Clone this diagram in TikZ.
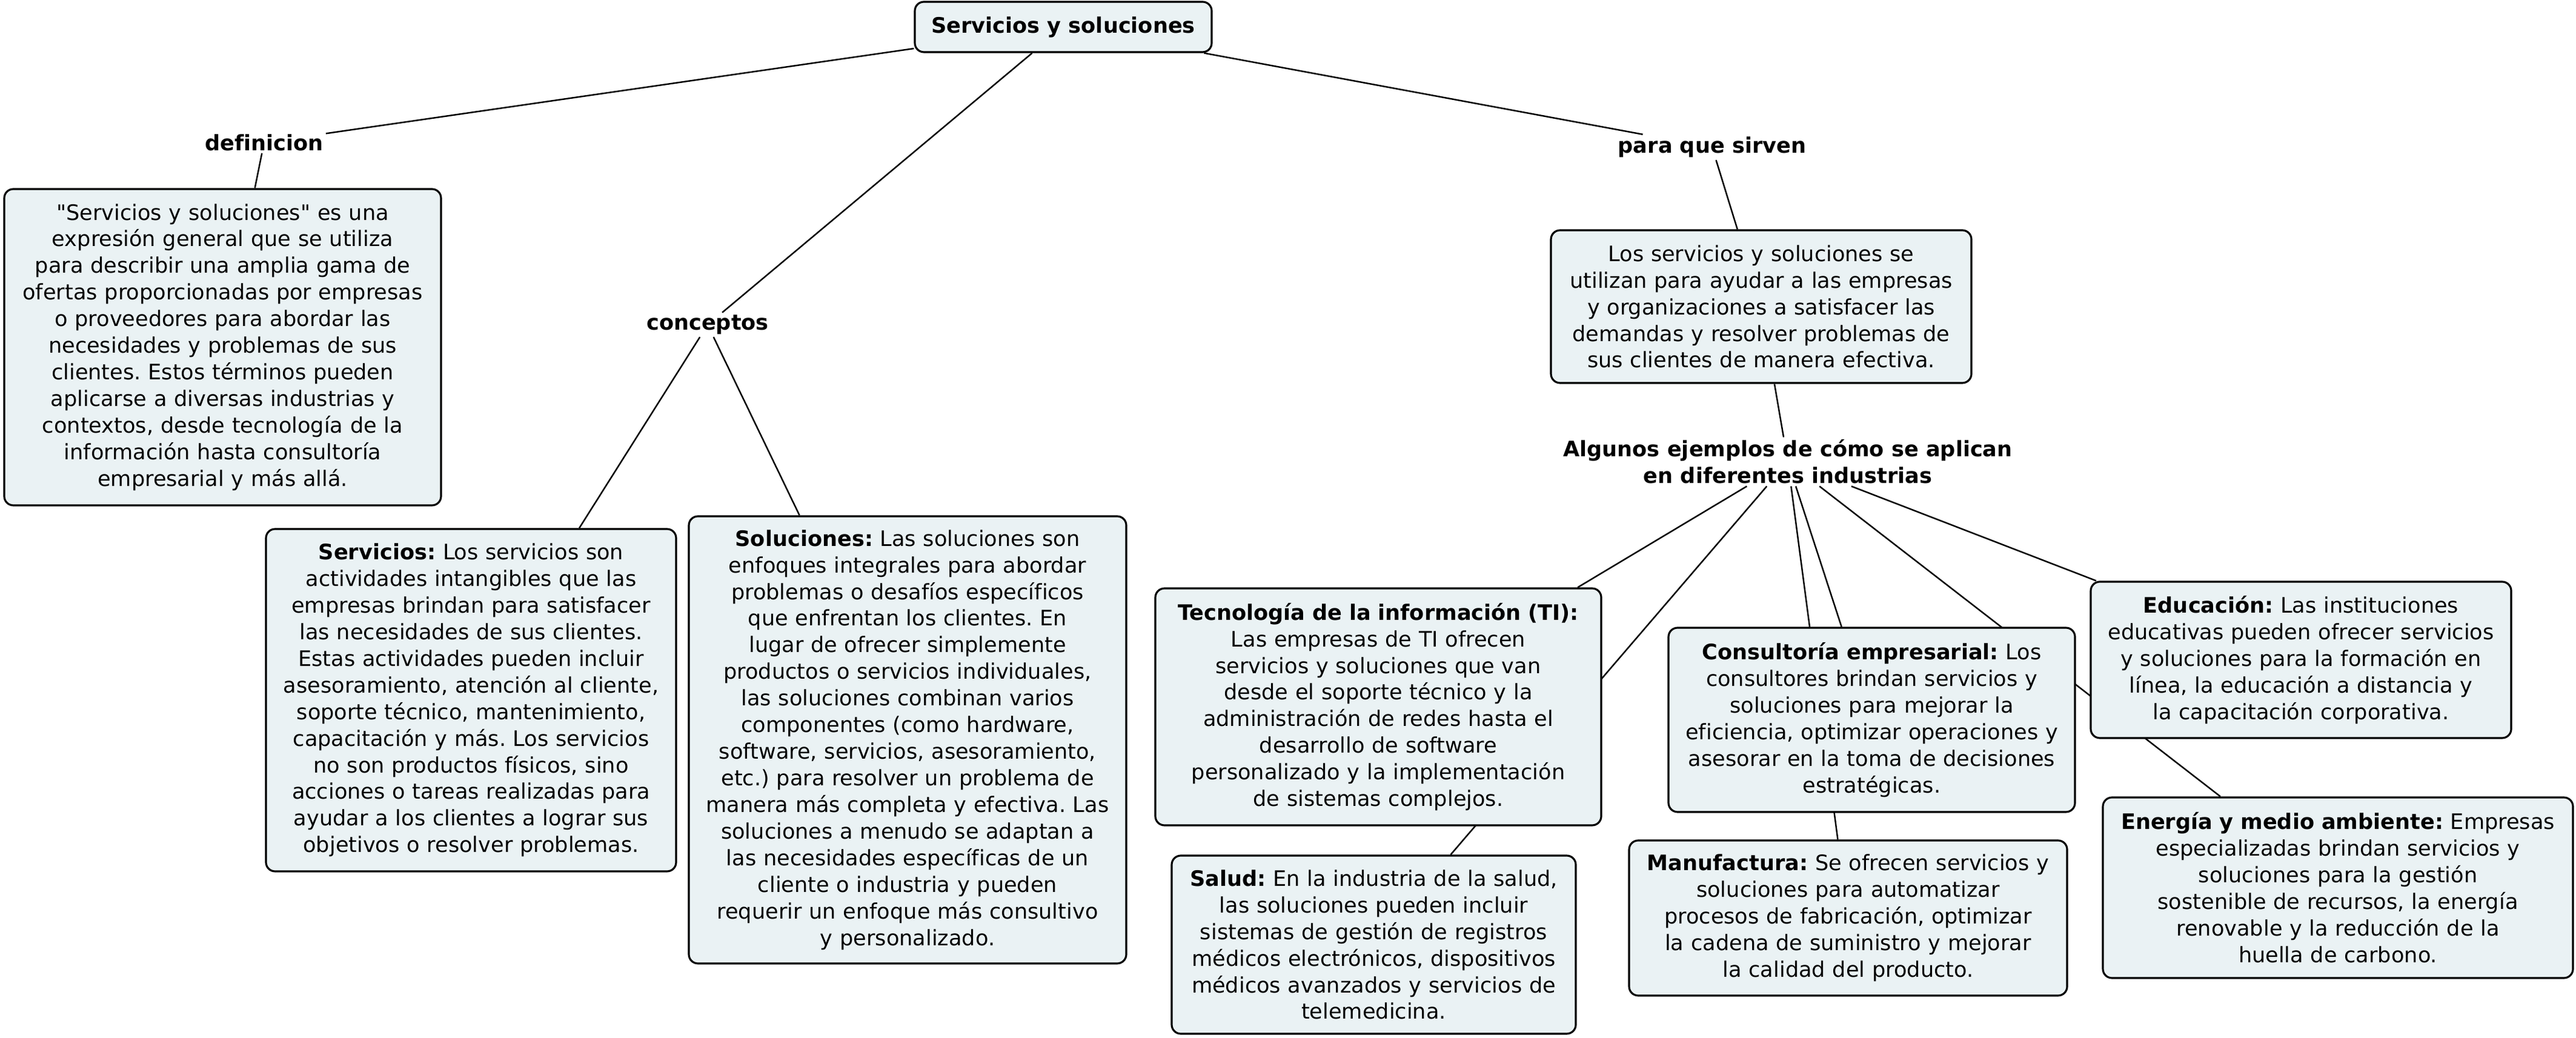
\documentclass[tikz,border=0pt]{standalone}
\usepackage{fontspec}
\setmainfont{DejaVu Sans}[Ligatures={TeXOff,NoCommon}]
\usetikzlibrary{positioning,backgrounds}
\definecolor{fondocaja}{HTML}{EAF2F4}
\newcommand{\letra}{\fontsize{10}{12.5}\selectfont\frenchspacing}

\begin{document}
\begin{tikzpicture}[-,thin]
\tikzstyle{caja}=[draw,fill=fondocaja,line width=0.9pt,rounded corners=0.15cm,align=center,inner xsep=0.12cm,inner ysep=0pt,text=black,font=\letra]
\tikzstyle{etiqueta}=[font=\letra\bfseries,align=center,inner sep=1pt]
\tikzstyle{enlace}=[line width=0.7pt]
\useasboundingbox (0,0) rectangle (42.52,-17.13);

\node[caja,font=\letra\bfseries,minimum width=4.9cm,minimum height=0.83cm] (raiz) at (17.55,-0.445) {Servicios y soluciones};

\node[etiqueta]  (definicion) [below of=raiz,node distance=1.905cm,xshift=-13.19cm] {definicion};
\node[caja]      (textodef) [below of=definicion,node distance=3.38cm,xshift=-0.685cm,text width=6.97cm,minimum height=5.22cm]
{"Servicios y soluciones" es una\\expresión general que se utiliza\\para describir una amplia gama de\\ofertas proporcionadas por empresas\\o proveedores para abordar las\\necesidades y problemas de sus\\clientes. Estos términos pueden\\aplicarse a diversas industrias y\\contextos, desde tecnología de la\\información hasta consultoría\\empresarial y más allá.};

\node[etiqueta]  (conceptos) [below of=raiz,node distance=4.915cm,xshift=-5.87cm] {conceptos};
\node[caja]      (servicios) [below of=conceptos,node distance=6.195cm,xshift=-3.905cm,text width=6.53cm,minimum height=5.65cm]
{\textbf{Servicios:} Los servicios son\\actividades intangibles que las\\empresas brindan para satisfacer\\las necesidades de sus clientes.\\Estas actividades pueden incluir\\asesoramiento, atención al cliente,\\soporte técnico, mantenimiento,\\capacitación y más. Los servicios\\no son productos físicos, sino\\acciones o tareas realizadas para\\ayudar a los clientes a lograr sus\\objetivos o resolver problemas.};
\node[caja]      (soluciones) [below of=conceptos,node distance=6.85cm,xshift=3.30cm,text width=6.98cm,minimum height=7.38cm]
{\textbf{Soluciones:} Las soluciones son\\enfoques integrales para abordar\\problemas o desafíos específicos\\que enfrentan los clientes. En\\lugar de ofrecer simplemente\\productos o servicios individuales,\\las soluciones combinan varios\\componentes (como hardware,\\software, servicios, asesoramiento,\\etc.) para resolver un problema de\\manera más completa y efectiva. Las\\soluciones a menudo se adaptan a\\las necesidades específicas de un\\cliente o industria y pueden\\requerir un enfoque más consultivo\\y personalizado.};

\node[etiqueta]  (sirven) [below of=raiz,node distance=1.985cm,xshift=10.71cm] {para que sirven};
\node[caja]      (textosirven) [below of=sirven,node distance=2.63cm,xshift=0.81cm,text width=6.70cm,minimum height=2.52cm]
{Los servicios y soluciones se\\utilizan para ayudar a las empresas\\y organizaciones a satisfacer las\\demandas y resolver problemas de\\sus clientes de manera efectiva.};
\node[etiqueta]  (ejemplos) [below of=textosirven,node distance=2.56cm,xshift=0.44cm] {Algunos ejemplos de cómo se aplican\\en diferentes industrias};

\node[caja]      (ti) [below of=ejemplos,node distance=4.045cm,xshift=-6.76cm,text width=7.12cm,minimum height=3.91cm]
{\textbf{Tecnología de la información (TI):}\\Las empresas de TI ofrecen\\servicios y soluciones que van\\desde el soporte técnico y la\\administración de redes hasta el\\desarrollo de software\\personalizado y la implementación\\de sistemas complejos.};
\node[caja]      (salud) [below of=ti,node distance=3.925cm,xshift=-0.075cm,text width=6.43cm,minimum height=2.94cm]
{\textbf{Salud:} En la industria de la salud,\\las soluciones pueden incluir\\sistemas de gestión de registros\\médicos electrónicos, dispositivos\\médicos avanzados y servicios de\\telemedicina.};
\node[caja]      (consultoria) [below of=ejemplos,node distance=4.26cm,xshift=1.385cm,text width=6.47cm,minimum height=3.04cm]
{\textbf{Consultoría empresarial:} Los\\consultores brindan servicios y\\soluciones para mejorar la\\eficiencia, optimizar operaciones y\\asesorar en la toma de decisiones\\estratégicas.};
\node[caja]      (manufactura) [below of=consultoria,node distance=3.27cm,xshift=-0.39cm,text width=6.99cm,minimum height=2.56cm]
{\textbf{Manufactura:} Se ofrecen servicios y\\soluciones para automatizar\\procesos de fabricación, optimizar\\la cadena de suministro y mejorar\\la calidad del producto.};
\node[caja]      (educacion) [below of=ejemplos,node distance=3.27cm,xshift=8.47cm,text width=6.70cm,minimum height=2.58cm]
{\textbf{Educación:} Las instituciones\\educativas pueden ofrecer servicios\\y soluciones para la formación en\\línea, la educación a distancia y\\la capacitación corporativa.};
\node[caja]      (energia) [below of=educacion,node distance=3.76cm,xshift=0.61cm,text width=7.52cm,minimum height=2.98cm]
{\textbf{Energía y medio ambiente:} Empresas\\especializadas brindan servicios y\\soluciones para la gestión\\sostenible de recursos, la energía\\renovable y la reducción de la\\huella de carbono.};

\begin{pgfonlayer}{background}
\path[enlace]
(raiz) edge (definicion)
(definicion) edge (textodef)
(raiz) edge (conceptos)
(conceptos) edge (servicios)
(conceptos) edge (soluciones)
(raiz) edge (sirven)
(sirven) edge (textosirven)
(textosirven) edge (ejemplos)
(ejemplos) edge (ti)
(ejemplos) edge (salud)
(ejemplos) edge (consultoria)
(ejemplos) edge (manufactura)
(ejemplos) edge (educacion)
(ejemplos) edge (energia)
;
\end{pgfonlayer}
\end{tikzpicture}
\end{document}
